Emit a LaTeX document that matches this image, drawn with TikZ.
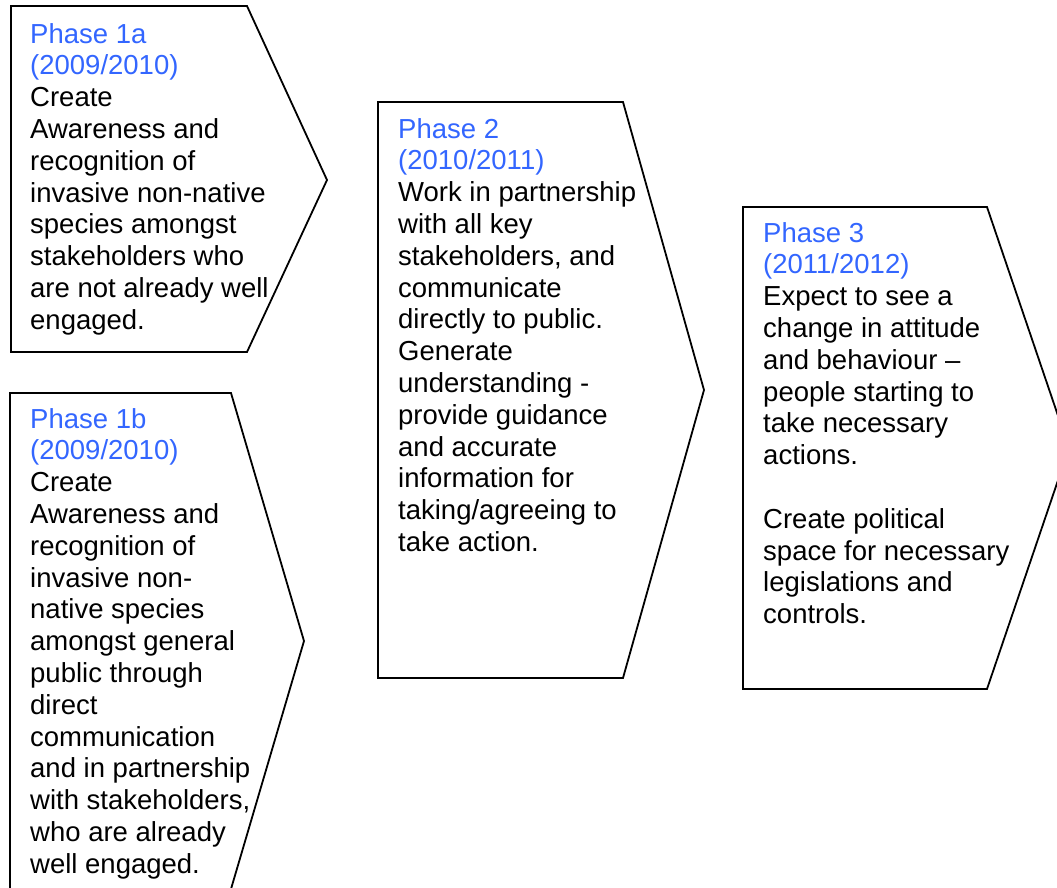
\documentclass[tikz,border=0pt]{standalone}
\usepackage{fontspec}
\setmainfont{Liberation Sans}
\usetikzlibrary{positioning}
\definecolor{phaseblue}{RGB}{51,102,255}

\begin{document}
\begin{tikzpicture}[
        x=1pt, y=-1pt,
        phasebox/.style={draw, line width=1.8pt, line join=miter},
        phasetext/.style={anchor=north west, inner sep=0pt, align=left,
            font=\fontsize{27.5}{31.8}\selectfont}
    ]
    \clip (0,0) rectangle (1057,888);

    % Boxes
    \draw[phasebox] (11,6) -- (247,6) -- (327,180) -- (247,352) -- (11,352) -- cycle;
    \draw[phasebox] (10,393) -- (231,393) -- (304,641) -- (231,889) -- (10,889) -- cycle;
    \draw[phasebox] (378,102) -- (623,102) -- (704,390) -- (623,678) -- (378,678) -- cycle;
    \draw[phasebox] (743,207) -- (987,207) -- (1069,448) -- (987,689) -- (743,689) -- cycle;

    % Texts
    \node[phasetext] (p1a) at (30,23) {\textcolor{phaseblue}{Phase 1a}\\
        \textcolor{phaseblue}{(2009/2010)}\\
        Create\\
        Awareness and\\
        recognition of\\
        invasive non-native\\
        species amongst\\
        stakeholders who\\
        are not already well\\
        engaged.};
    \node[phasetext] (p1b) at (30,408) {\textcolor{phaseblue}{Phase 1b}\\
        \textcolor{phaseblue}{(2009/2010)}\\
        Create\\
        Awareness and\\
        recognition of\\
        invasive non-\\
        native species\\
        amongst general\\
        public through\\
        direct\\
        communication\\
        and in partnership\\
        with stakeholders,\\
        who are already\\
        well engaged.};
    \node[phasetext] (p2) at (398,118) {\textcolor{phaseblue}{Phase 2}\\
        \textcolor{phaseblue}{(2010/2011)}\\
        Work in partnership\\
        with all key\\
        stakeholders, and\\
        communicate\\
        directly to public.\\
        Generate\\
        understanding -\\
        provide guidance\\
        and accurate\\
        information for\\
        taking/agreeing to\\
        take action.};
    \node[phasetext] (p3) at (763,222) {\textcolor{phaseblue}{Phase 3}\\
        \textcolor{phaseblue}{(2011/2012)}\\
        Expect to see a\\
        change in attitude\\
        and behaviour –\\
        people starting to\\
        take necessary\\
        actions.\\
        ~\\
        Create political\\
        space for necessary\\
        legislations and\\
        controls.};

\end{tikzpicture}
\end{document}
